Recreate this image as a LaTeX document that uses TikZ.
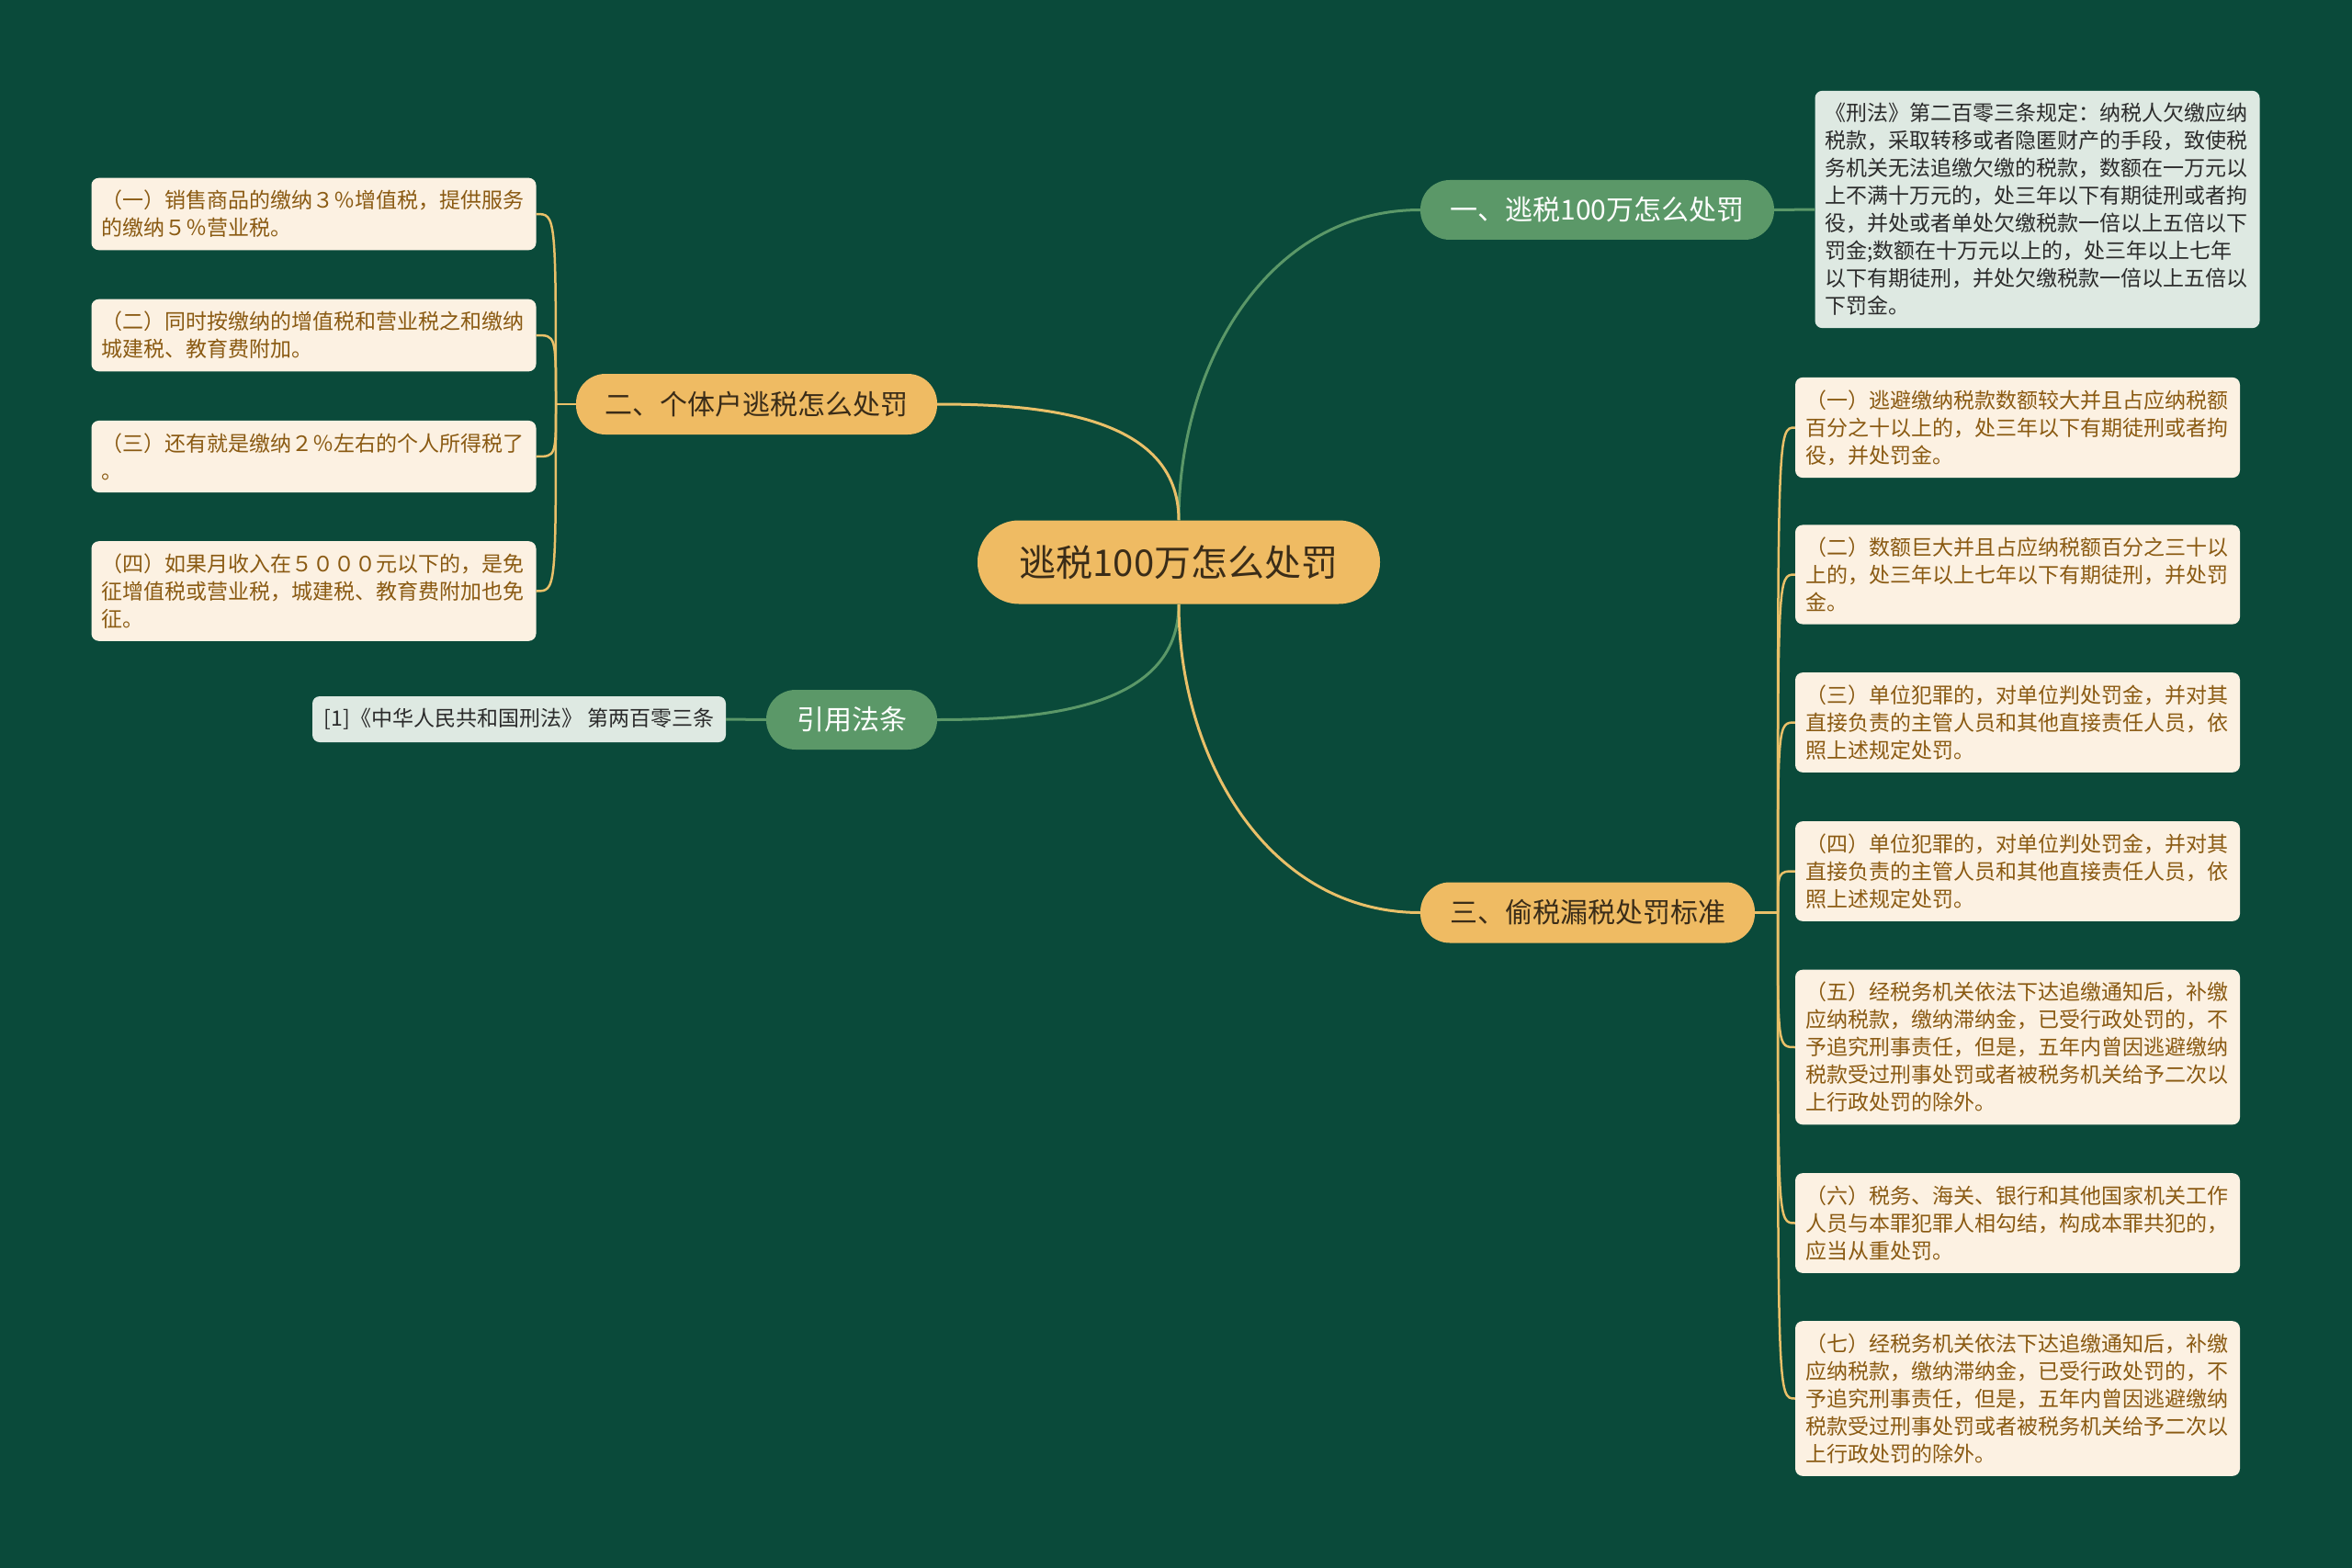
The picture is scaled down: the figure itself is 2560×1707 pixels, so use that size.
\documentclass[tikz,border=0pt]{standalone}
\usepackage{fontspec}
\setmainfont{Noto Sans CJK SC}

\definecolor{bgteal}{HTML}{0A4A3A}
\definecolor{pillyellow}{HTML}{EFBB63}
\definecolor{pillgreen}{HTML}{5B9868}
\definecolor{leafcream}{HTML}{FCF1E2}
\definecolor{notegrey}{HTML}{DEE9E2}
\definecolor{inkbrown}{HTML}{8A5A12}
\definecolor{inkdark}{HTML}{3A2C18}
\definecolor{inkgrey}{HTML}{2B2B2B}
\definecolor{lineyellow}{HTML}{E9C069}
\definecolor{linegreen}{HTML}{5B9868}

\tikzset{
  rootpill/.style={fill=pillyellow, rounded corners=45pt, minimum width=438pt,
    minimum height=91pt, inner sep=0pt, text=inkdark, font=\fontsize{40pt}{48pt}\selectfont},
  yellowpill/.style={fill=pillyellow, rounded corners=32pt, minimum height=66pt,
    inner sep=0pt, text=inkdark, font=\fontsize{30pt}{36pt}\selectfont},
  greenpill/.style={fill=pillgreen, rounded corners=32pt, minimum height=65pt,
    inner sep=0pt, text=white, font=\fontsize{30pt}{36pt}\selectfont},
  leaf/.style={fill=leafcream, rounded corners=8pt, text=inkbrown, align=left,
    text width=462pt, inner xsep=11pt, inner ysep=13.5pt,
    font=\fontsize{23pt}{30pt}\selectfont},
  note/.style={leaf, fill=notegrey, text=inkgrey},
  yline/.style={lineyellow, line width=3pt},
  gline/.style={linegreen, line width=3pt},
  twig/.style={lineyellow, line width=2.5pt}
}

\begin{document}
\begin{tikzpicture}[x=1pt,y=-1pt]

  % ---------------- background ----------------
  \fill[bgteal] (0,0) rectangle (2560,1707);

  % ---------------- centre and main branches ----------------
  \node[rootpill] (root) at (1283,612) {逃税100万怎么处罚};
  \node[greenpill, minimum width=385pt] (br1) at (1738.5,228.5) {一、逃税100万怎么处罚};
  \node[yellowpill, minimum width=393pt] (br2) at (823.5,440) {二、个体户逃税怎么处罚};
  \node[greenpill, minimum width=186pt] (cite) at (927,783.5) {引用法条};
  \node[yellowpill, minimum width=364pt] (br3) at (1728,993.5) {三、偷税漏税处罚标准};

  \draw[gline] (root.north) to[out=90,in=180] (br1.west);
  \draw[yline] (root.north) to[out=90,in=0] (br2.east);
  \draw[gline] (root.south) to[out=270,in=0] (cite.east);
  \draw[yline] (root.south) to[out=270,in=180] (br3.west);

  % ---------------- branch one: the law text ----------------
  \node[note] (law) at (2217.5,228) {《刑法》第二百零三条规定：纳税人欠缴应纳\\
    税款，采取转移或者隐匿财产的手段，致使税\\
    务机关无法追缴欠缴的税款，数额在一万元以\\
    上不满十万元的，处三年以下有期徒刑或者拘\\
    役，并处或者单处欠缴税款一倍以上五倍以下\\
    罚金;数额在十万元以上的，处三年以上七年\\
    以下有期徒刑，并处欠缴税款一倍以上五倍以\\
    下罚金。};
  \draw[gline] (br1.east) -- (law.west);

  % ---------------- cited article ----------------
  \node[note, text width=, align=center, inner ysep=0pt, minimum width=450pt,
    minimum height=50pt] (ref) at (565,783) {[1]《中华人民共和国刑法》 第两百零三条};
  \draw[gline] (cite.west) -- (ref.east);

  % ---------------- branch two: left leaves ----------------
  \node[leaf] (la) at (341.5,233) {（一）销售商品的缴纳３％增值税，提供服务\\的缴纳５％营业税。};
  \node[leaf] (lb) at (341.5,365) {（二）同时按缴纳的增值税和营业税之和缴纳\\城建税、教育费附加。};
  \node[leaf] (lc) at (341.5,497) {（三）还有就是缴纳２％左右的个人所得税了\\。};
  \node[leaf] (ld) at (341.5,643.5) {（四）如果月收入在５０００元以下的，是免\\征增值税或营业税，城建税、教育费附加也免\\征。};

  \coordinate (hub2) at (605,440);
  \draw[twig] (br2.west) -- (hub2);
  \draw[twig] (hub2) .. controls (hub2 |- la.east) .. (la.east);
  \draw[twig] (hub2) .. controls (hub2 |- lb.east) .. (lb.east);
  \draw[twig] (hub2) .. controls (hub2 |- lc.east) .. (lc.east);
  \draw[twig] (hub2) .. controls (hub2 |- ld.east) .. (ld.east);

  % ---------------- branch three: right leaves ----------------
  \node[leaf] (ra) at (2196,465.5) {（一）逃避缴纳税款数额较大并且占应纳税额\\百分之十以上的，处三年以下有期徒刑或者拘\\役，并处罚金。};
  \node[leaf] (rb) at (2196,625.5) {（二）数额巨大并且占应纳税额百分之三十以\\上的，处三年以上七年以下有期徒刑，并处罚\\金。};
  \node[leaf] (rc) at (2196,786.5) {（三）单位犯罪的，对单位判处罚金，并对其\\直接负责的主管人员和其他直接责任人员，依\\照上述规定处罚。};
  \node[leaf] (rd) at (2196,948.5) {（四）单位犯罪的，对单位判处罚金，并对其\\直接负责的主管人员和其他直接责任人员，依\\照上述规定处罚。};
  \node[leaf] (re) at (2196,1140) {（五）经税务机关依法下达追缴通知后，补缴\\应纳税款，缴纳滞纳金，已受行政处罚的，不\\予追究刑事责任，但是，五年内曾因逃避缴纳\\税款受过刑事处罚或者被税务机关给予二次以\\上行政处罚的除外。};
  \node[leaf] (rf) at (2196,1331.5) {（六）税务、海关、银行和其他国家机关工作\\人员与本罪犯罪人相勾结，构成本罪共犯的，\\应当从重处罚。};
  \node[leaf] (rg) at (2196,1522.5) {（七）经税务机关依法下达追缴通知后，补缴\\应纳税款，缴纳滞纳金，已受行政处罚的，不\\予追究刑事责任，但是，五年内曾因逃避缴纳\\税款受过刑事处罚或者被税务机关给予二次以\\上行政处罚的除外。};

  \coordinate (hub3) at (1935,993.5);
  \draw[twig] (br3.east) -- (hub3);
  \draw[twig] (hub3) .. controls (hub3 |- ra.west) .. (ra.west);
  \draw[twig] (hub3) .. controls (hub3 |- rb.west) .. (rb.west);
  \draw[twig] (hub3) .. controls (hub3 |- rc.west) .. (rc.west);
  \draw[twig] (hub3) .. controls (hub3 |- rd.west) .. (rd.west);
  \draw[twig] (hub3) .. controls (hub3 |- re.west) .. (re.west);
  \draw[twig] (hub3) .. controls (hub3 |- rf.west) .. (rf.west);
  \draw[twig] (hub3) .. controls (hub3 |- rg.west) .. (rg.west);

\end{tikzpicture}
\end{document}
